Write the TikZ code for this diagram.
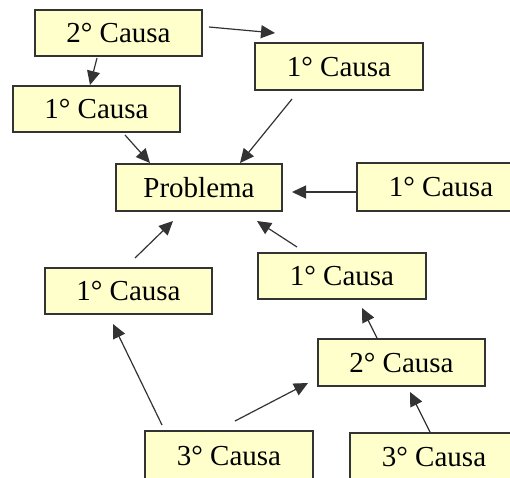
\documentclass[tikz,border=0pt]{standalone}
\usepackage{fontspec}
\setmainfont{Liberation Serif}
\usetikzlibrary{arrows.meta}
\definecolor{boxfill}{HTML}{FFFFCC}
\definecolor{edge}{HTML}{333333}
\tikzset{
  causebox/.style={draw=edge, line width=1.5pt, fill=boxfill, inner sep=0pt, outer sep=0pt,
    minimum width=167pt, minimum height=46pt, font=\fontsize{29}{31}\selectfont},
  arr/.style={draw=edge, line width=1.2pt, -{Triangle[length=14pt,width=13pt]}}
}
\begin{document}
\begin{tikzpicture}[x=1pt,y=-1pt]
\useasboundingbox (0,0) rectangle (510,477);
\fill[white] (0,0) rectangle (510,477);
\clip (0,0) rectangle (510,477);
\node[causebox] (A) at (118.5,33) {2° Causa};
\node[causebox] (B) at (96.5,109) {1° Causa};
\node[causebox, minimum height=47pt, minimum width=168pt] (C) at (339,66.5) {1° Causa};
\node[causebox, minimum height=47pt, minimum width=166pt] (P) at (199,187.5) {Problema};
\node[causebox, minimum height=48pt, minimum width=168pt] (D) at (441,187) {1° Causa};
\node[causebox, minimum width=168pt] (E) at (342,276) {1° Causa};
\node[causebox] (F) at (128.5,291) {1° Causa};
\node[causebox, minimum height=47pt] (G) at (401.5,362.5) {2° Causa};
\node[causebox, minimum height=50pt, minimum width=168pt] (H) at (229,456) {3° Causa};
\node[causebox, minimum height=48pt, minimum width=168pt] (I) at (434,457) {3° Causa};
\draw[arr] ([xshift=-21.5pt,yshift=-2pt]A.south) -- ([xshift=-6.5pt,yshift=1pt]B.north);
\draw[arr] ([xshift=7pt,yshift=6pt]A.east) -- ([xshift=20pt,yshift=10pt]C.north west);
\draw[arr] ([xshift=28.5pt,yshift=-3pt]B.south) -- ([xshift=-49pt,yshift=1pt]P.north);
\draw[arr] ([xshift=-47pt,yshift=-9pt]C.south) -- ([xshift=41pt,yshift=1pt]P.north);
\draw[arr] ([yshift=-5pt]D.west) -- ([xshift=10pt,yshift=-4.5pt]P.east);
\draw[arr] ([xshift=6.5pt,yshift=10pt]F.north) -- ([xshift=-26pt,yshift=-10pt]P.south);
\draw[arr] ([xshift=-45pt,yshift=6pt]E.north) -- ([xshift=58pt,yshift=-10pt]P.south);
\draw[arr] ([xshift=-24.5pt,yshift=1pt]G.north) -- ([xshift=20pt,yshift=-9pt]E.south);
\draw[arr] ([xshift=-67pt,yshift=6pt]H.north) -- ([xshift=-15.5pt,yshift=-10pt]F.south);
\draw[arr] ([xshift=6pt,yshift=10pt]H.north) -- ([xshift=-10pt,yshift=3pt]G.south west);
\draw[arr] ([xshift=-4pt,yshift=1pt]I.north) -- ([xshift=8.5pt,yshift=-6pt]G.south);
\end{tikzpicture}
\end{document}
